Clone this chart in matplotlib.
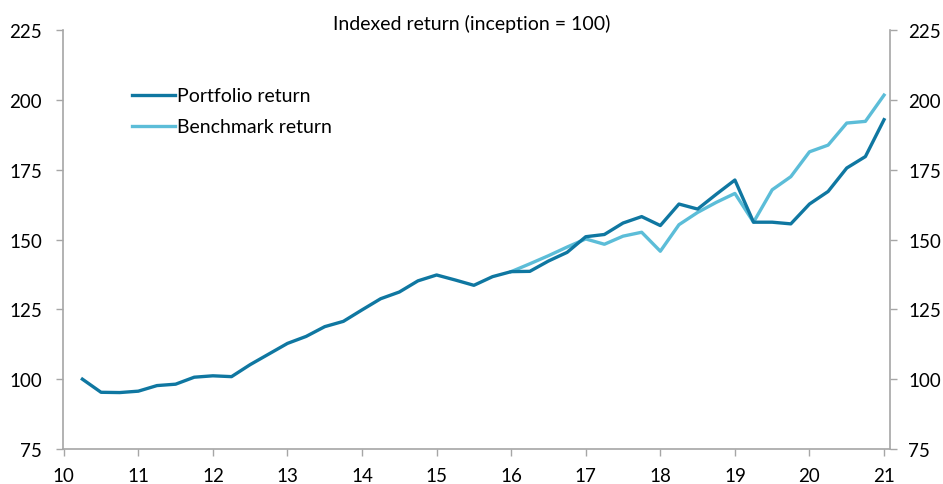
import numpy as np
import matplotlib.pyplot as plt

# --- data (quarterly) ---
portfolio_x = np.arange(10.25, 21.01, 0.25)
portfolio = [100.0, 95.3, 95.2, 95.7, 97.7, 98.2, 100.7, 101.2, 100.9, 105.2,
             109.0, 112.8, 115.3, 118.8, 120.7, 124.8, 128.8, 131.2, 135.2, 137.3,
             135.5, 133.6, 136.7, 138.5, 138.6, 142.3, 145.4, 151.0, 151.8, 155.9,
             158.2, 155.0, 162.7, 160.9, 166.2, 171.3, 156.2, 156.2, 155.6, 162.7,
             167.2, 175.6, 179.7, 192.9]

benchmark_x = np.arange(16.0, 21.01, 0.25)
benchmark = [138.5, 141.3, 144.2, 147.3, 150.2, 148.3, 151.2, 152.6, 145.8, 155.3,
             159.7, 163.3, 166.5, 156.2, 167.8, 172.5, 181.4, 183.8, 191.7, 192.3,
             201.7]

y_ticks = [75, 100, 125, 150, 175, 200, 225]
x_ticks = list(range(10, 22))

PORT_COLOR = "#0f77a1"
BENCH_COLOR = "#5cbdd8"
AXIS_COLOR = "#a6a6a6"

plt.rcParams['font.family'] = ['Lato', 'DejaVu Sans']

fig = plt.figure(figsize=(9.43, 4.85), dpi=100)
ax = fig.add_axes([0.0668, 0.0722, 0.877, 0.8638])

ax.plot(portfolio_x, portfolio, color=PORT_COLOR, lw=2.4, label="Portfolio return", zorder=3)
ax.plot(benchmark_x, benchmark, color=BENCH_COLOR, lw=2.4, label="Benchmark return", zorder=2)

ax.set_xlim(9.99, 21.08)
ax.set_ylim(75, 225)
ax.set_xticks(x_ticks)
ax.set_yticks(y_ticks)

for side in ["top", "right"]:
    ax.spines[side].set_visible(False)
for side in ["left", "bottom"]:
    ax.spines[side].set_color(AXIS_COLOR)
    ax.spines[side].set_linewidth(1.2)
ax.tick_params(axis="both", colors=AXIS_COLOR, length=5, width=1, labelsize=13.5,
               labelcolor="black")
ax.tick_params(axis="x", pad=8)
ax.tick_params(axis="y", pad=10)

# right-hand axis, same scale
ax2 = ax.twinx()
ax2.set_ylim(75, 225)
ax2.set_yticks(y_ticks)
for side in ["top", "left", "bottom"]:
    ax2.spines[side].set_visible(False)
ax2.spines["right"].set_color(AXIS_COLOR)
ax2.spines["right"].set_linewidth(1.2)
ax2.tick_params(axis="y", colors=AXIS_COLOR, length=5, width=1, labelsize=13.5,
                labelcolor="black", pad=8)

leg = ax.legend(loc="upper left", bbox_to_anchor=(0.062, 0.905), frameon=False,
                fontsize=14, handlelength=2.2, handletextpad=0.15, labelspacing=0.72)

fig.text(0.5, 0.95, "Indexed return (inception = 100)", ha="center", va="center",
         fontsize=14)

fig.savefig("out.png", dpi=100)
